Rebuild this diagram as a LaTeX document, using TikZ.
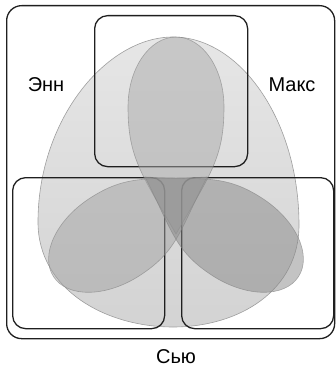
\documentclass[tikz,border=0pt]{standalone}
\usepackage{fontspec}
\setmainfont{Liberation Sans}
\begin{document}
\begin{tikzpicture}[x=1pt,y=-1pt,
  boxline/.style={draw=black!88, line width=1.3pt, rounded corners=13pt},
  outerbox/.style={draw=black!88, line width=1.3pt, rounded corners=15pt},
  eggline/.style={draw=black!38, line width=0.6pt},
  petal/.style={fill=#1, fill opacity=0.5, draw=black!50, draw opacity=0.6, line width=0.6pt},
  lbl/.style={font=\fontsize{20}{24}\selectfont, anchor=base, inner sep=0pt}
]
\definecolor{eggtop}{HTML}{E6E6E6}
\definecolor{eggbot}{HTML}{D3D3D3}
\definecolor{petU}{HTML}{AAAAAA}
\definecolor{petL}{HTML}{A2A2A2}
\definecolor{petR}{HTML}{888888}
\useasboundingbox (0,0) rectangle (335,366);

% egg
\path[top color=eggtop, bottom color=eggbot, eggline]
  (173,37) .. controls (240,37) and (299,120) .. (299,225)
  .. controls (299,290) and (240,327) .. (173,327)
  .. controls (106,327) and (38,290) .. (38,222)
  .. controls (38,120) and (106,37) .. cycle;

% boxes
\node[outerbox, minimum width=328pt, minimum height=333pt, anchor=north west, inner sep=0pt] (all) at (6,5) {};
\node[boxline, minimum width=153pt, minimum height=151pt, anchor=north west, inner sep=0pt] (max) at (94,15) {};
\node[boxline, minimum width=152pt, minimum height=151pt, anchor=north west, inner sep=0pt] (ann) at (12,177) {};
\node[boxline, minimum width=152pt, minimum height=151pt, anchor=north west, inner sep=0pt] (sue) at (181,177) {};

% petals
\begin{scope}[shift={(176,234)}, x=1pt, y=1pt, rotate=90]
\path[petal=petU] (0,0) .. controls (60.6,35) and (77,48) .. (127,48)
  .. controls (165.6,48) and (197,26.5) .. (197,0)
  .. controls (197,-26.5) and (165.6,-48) .. (127,-48)
  .. controls (77,-48) and (60.6,-35) .. cycle;
\end{scope}
\begin{scope}[shift={(207,177)}, x=1pt, y=1pt, rotate=213]
\path[petal=petL] (0,0) .. controls (52,30) and (65,46) .. (110,46)
  .. controls (150.3,46) and (183,25.4) .. (183,0)
  .. controls (183,-25.4) and (150.3,-46) .. (110,-46)
  .. controls (65,-46) and (52,-30) .. cycle;
\end{scope}
\begin{scope}[shift={(145,177)}, x=1pt, y=1pt, rotate=-33]
\path[petal=petR] (0,0) .. controls (52,30) and (65,46) .. (110,46)
  .. controls (150.3,46) and (183,25.4) .. (183,0)
  .. controls (183,-25.4) and (150.3,-46) .. (110,-46)
  .. controls (65,-46) and (52,-30) .. cycle;
\end{scope}

% labels
\node[lbl] (tann) at (46,92) {Энн};
\node[lbl] (tmax) at (292,92) {Макс};
\node[lbl] (tsue) at (176,363) {Сью};
\end{tikzpicture}
\end{document}
